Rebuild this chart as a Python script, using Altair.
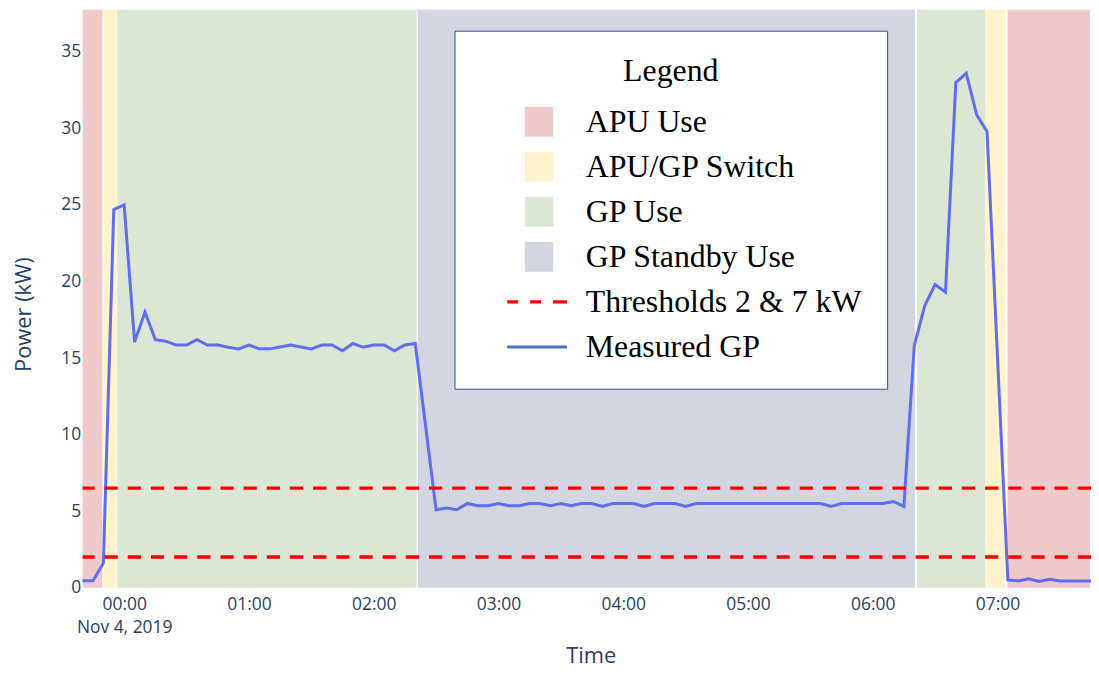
import altair as alt
import pandas as pd

# ---------------- data ----------------
times = [
    "2019-11-03T23:40", "2019-11-03T23:45", "2019-11-03T23:50", "2019-11-03T23:55",
    "2019-11-04T00:00", "2019-11-04T00:05", "2019-11-04T00:10", "2019-11-04T00:15",
    "2019-11-04T00:20", "2019-11-04T00:25", "2019-11-04T00:30", "2019-11-04T00:35",
    "2019-11-04T00:40", "2019-11-04T00:45", "2019-11-04T00:50", "2019-11-04T00:55",
    "2019-11-04T01:00", "2019-11-04T01:05", "2019-11-04T01:10", "2019-11-04T01:15",
    "2019-11-04T01:20", "2019-11-04T01:25", "2019-11-04T01:30", "2019-11-04T01:35",
    "2019-11-04T01:40", "2019-11-04T01:45", "2019-11-04T01:50", "2019-11-04T01:55",
    "2019-11-04T02:00", "2019-11-04T02:05", "2019-11-04T02:10", "2019-11-04T02:15",
    "2019-11-04T02:20", "2019-11-04T02:30", "2019-11-04T02:35", "2019-11-04T02:40",
    "2019-11-04T02:45", "2019-11-04T02:50", "2019-11-04T02:55", "2019-11-04T03:00",
    "2019-11-04T03:05", "2019-11-04T03:10", "2019-11-04T03:15", "2019-11-04T03:20",
    "2019-11-04T03:25", "2019-11-04T03:30", "2019-11-04T03:35", "2019-11-04T03:40",
    "2019-11-04T03:45", "2019-11-04T03:50", "2019-11-04T03:55", "2019-11-04T04:00",
    "2019-11-04T04:05", "2019-11-04T04:10", "2019-11-04T04:15", "2019-11-04T04:20",
    "2019-11-04T04:25", "2019-11-04T04:30", "2019-11-04T04:35", "2019-11-04T04:40",
    "2019-11-04T04:45", "2019-11-04T04:50", "2019-11-04T04:55", "2019-11-04T05:00",
    "2019-11-04T05:05", "2019-11-04T05:10", "2019-11-04T05:15", "2019-11-04T05:20",
    "2019-11-04T05:25", "2019-11-04T05:30", "2019-11-04T05:35", "2019-11-04T05:40",
    "2019-11-04T05:45", "2019-11-04T05:50", "2019-11-04T05:55", "2019-11-04T06:00",
    "2019-11-04T06:05", "2019-11-04T06:10", "2019-11-04T06:15", "2019-11-04T06:20",
    "2019-11-04T06:25", "2019-11-04T06:30", "2019-11-04T06:35", "2019-11-04T06:40",
    "2019-11-04T06:45", "2019-11-04T06:50", "2019-11-04T06:55", "2019-11-04T07:05",
    "2019-11-04T07:10", "2019-11-04T07:15", "2019-11-04T07:20", "2019-11-04T07:25",
    "2019-11-04T07:30", "2019-11-04T07:35", "2019-11-04T07:40", "2019-11-04T07:45",
]
power = [
    0.45, 0.45, 1.6, 24.7,
    25.0, 16.05, 18.0, 16.2,
    16.1, 15.85, 15.85, 16.2,
    15.85, 15.85, 15.7, 15.6,
    15.85, 15.6, 15.6, 15.72,
    15.85, 15.72, 15.6, 15.85,
    15.85, 15.47, 15.95, 15.7,
    15.85, 15.85, 15.47, 15.85,
    15.95, 5.09, 5.2, 5.09,
    5.5, 5.35, 5.35, 5.5,
    5.35, 5.35, 5.5, 5.5,
    5.35, 5.5, 5.35, 5.5,
    5.5, 5.31, 5.5, 5.5,
    5.5, 5.31, 5.5, 5.5,
    5.5, 5.31, 5.5, 5.5,
    5.5, 5.5, 5.5, 5.5,
    5.5, 5.5, 5.5, 5.5,
    5.5, 5.5, 5.5, 5.31,
    5.5, 5.5, 5.5, 5.5,
    5.5, 5.63, 5.31, 15.8,
    18.4, 19.8, 19.3, 33.0,
    33.6, 30.9, 29.8, 0.5,
    0.44, 0.57, 0.40, 0.55,
    0.44, 0.44, 0.44, 0.44,
]

region_names = ["APU Use", "APU/GP Switch", "GP Use", "GP Standby Use",
                "GP Use", "APU/GP Switch", "APU Use"]
region_start = ["2019-11-03T23:40:00", "2019-11-03T23:50:00", "2019-11-03T23:56:40",
                "2019-11-04T02:21:10", "2019-11-04T06:21:20", "2019-11-04T06:54:10",
                "2019-11-04T07:04:50"]
region_end = ["2019-11-03T23:49:30", "2019-11-03T23:56:20", "2019-11-04T02:20:40",
              "2019-11-04T06:20:20", "2019-11-04T06:54:10", "2019-11-04T07:03:50",
              "2019-11-04T07:44:30"]

threshold_values = [2.0, 6.5]

legend_entries = ["APU Use", "APU/GP Switch", "GP Use", "GP Standby Use",
                  "Thresholds 2 & 7 kW", "Measured GP"]
legend_colors = ["#f0caca", "#fff2cd", "#dce6d5", "#d3d6e0", "#ff0000", "#4472c4"]
square_path = "M-0.95,-1H0.95V1H-0.95Z"
dash_path = ("M-2.13,-0.11H-1.4V0.11H-2.13Z"
             "M-0.6,-0.11H0.13V0.11H-0.6Z"
             "M0.93,-0.11H1.87V0.11H0.93Z")
solid_path = "M-2.13,-0.1H1.87V0.1H-2.13Z"
legend_shapes = [square_path, square_path, square_path, square_path, dash_path, solid_path]

y_ticks = [0, 5, 10, 15, 20, 25, 30, 35]
x_tick_hours = [0, 1, 2, 3, 4, 5, 6, 7]

# ---------------- tables ----------------
line_df = pd.DataFrame({"time": times, "power": power})
region_df = pd.DataFrame({"phase": region_names, "start": region_start, "end": region_end})
thr_df = pd.DataFrame({"threshold": threshold_values})
leg_df = pd.DataFrame({"entry": legend_entries})

TXT = "#2a3f5f"
FONT = "Open Sans"

x_scale = alt.Scale(
    domain=[alt.DateTime(year=2019, month=11, date=3, hours=23, minutes=40),
            alt.DateTime(year=2019, month=11, date=4, hours=7, minutes=45)],
    nice=False,
)
y_scale = alt.Scale(domain=[0, 37.75], nice=False)

x_axis = alt.Axis(
    title="Time",
    values=[alt.DateTime(year=2019, month=11, date=4, hours=h) for h in x_tick_hours],
    labelExpr="hours(datum.value) == 0 ? [timeFormat(datum.value, '%H:%M'), timeFormat(datum.value, '%b %-d, %Y')] : timeFormat(datum.value, '%H:%M')",
    grid=False, ticks=False, tickSize=0, domain=False,
    labelPadding=8, labelLineHeight=22.7, labelAngle=0, labelFlush=False, labelOverlap=False,
    labelFont=FONT, labelFontSize=17.5, labelColor=TXT,
    titleFont=FONT, titleFontSize=22, titleColor=TXT, titleFontWeight="normal",
    titleX=511, titleY=75, titleBaseline="alphabetic", titleAlign="center",
)
y_axis = alt.Axis(
    title="Power (kW)", values=y_ticks,
    grid=False, ticks=False, tickSize=0, domain=False,
    labelPadding=2, labelFlush=False,
    labelFont=FONT, labelFontSize=17.5, labelColor=TXT,
    titleFont=FONT, titleFontSize=22, titleColor=TXT, titleFontWeight="normal",
    titleX=-59, titleY=306, titleBaseline="middle", titleAlign="center",
)

legend_def = alt.Legend(
    title="Legend", orient="none", legendX=374, legendY=21, direction="vertical",
    fillColor="white", strokeColor="#2f528f", padding=25.5, cornerRadius=0,
    titleFont="Liberation Serif", titleFontSize=32, titleFontWeight="normal",
    titleColor="black", titleAnchor="middle", titleAlign="center", titlePadding=18,
    labelFont="Liberation Serif", labelFontSize=32, labelColor="black",
    labelLimit=600, labelOffset=31,
    symbolSize=900, symbolOffset=43.5, symbolStrokeWidth=0, symbolOpacity=1,
    rowPadding=13.3,
)

regions = alt.Chart(region_df).mark_rect().encode(
    x=alt.X("start:T", scale=x_scale, axis=x_axis),
    x2="end:T",
    fill=alt.Fill("phase:N",
                  scale=alt.Scale(domain=legend_entries[:4], range=legend_colors[:4]),
                  legend=None),
)

line = alt.Chart(line_df).mark_line(color="#5f6ef0", strokeWidth=3).encode(
    x=alt.X("time:T", scale=x_scale, axis=x_axis),
    y=alt.Y("power:Q", scale=y_scale, axis=y_axis),
)

rules = alt.Chart(thr_df).mark_rule(
    color="#ff0000", strokeWidth=3.3, strokeDash=[13.3, 10]
).encode(
    y=alt.Y("threshold:Q", scale=y_scale, axis=y_axis),
)

legend_layer = alt.Chart(leg_df).mark_point(
    filled=True, size=900, opacity=1, strokeWidth=0
).encode(
    color=alt.Color("entry:N", scale=alt.Scale(domain=legend_entries, range=legend_colors),
                    legend=legend_def),
    shape=alt.Shape("entry:N", scale=alt.Scale(domain=legend_entries, range=legend_shapes),
                    legend=legend_def),
).transform_filter("false")

chart = alt.layer(regions, line, rules, legend_layer).properties(
    width=1014, height=581,
    autosize=alt.AutoSizeParams(type="none"),
    padding={"left": 75, "top": 0, "right": 0, "bottom": 82},
    background="white",
).configure_view(stroke=None)

chart.save("out.html", embed_options={"renderer": "svg", "actions": False})
